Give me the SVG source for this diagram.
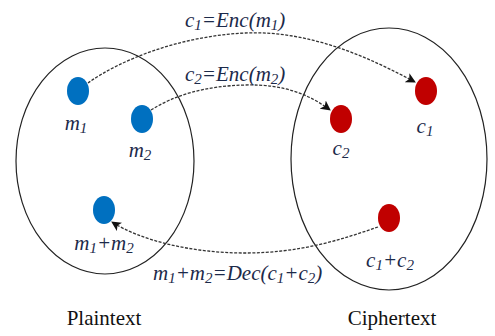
<svg xmlns="http://www.w3.org/2000/svg" width="495" height="336" viewBox="0 0 495 336">
<style>
.set{fill:none;stroke:#222;stroke-width:1.2}
.pt{fill:#0070C0}
.ct{fill:#C00000}
text{font-family:'Liberation Serif','Times New Roman',serif}
.lbl{font-style:italic;font-size:21px;fill:#1c2a4a}
.sub{font-size:15px}
.cap{font-size:21px;fill:#111}
.conn{fill:none;stroke:#333;stroke-width:1.3;stroke-dasharray:3 1.5}
</style>
<defs>
<marker id="ah" viewBox="0 0 10 10" refX="9" refY="5" markerWidth="10" markerHeight="10" markerUnits="userSpaceOnUse" orient="auto">
<path d="M0,0 L10,5 L0,10 L2.5,5 z" fill="#111"/>
</marker>
</defs>
<g id="plaintext">
<ellipse class="set" cx="105" cy="161" rx="89" ry="113"/>
<text class="cap" x="104" y="325" text-anchor="middle">Plaintext</text>
</g>
<g id="ciphertext">
<ellipse class="set" cx="389" cy="159" rx="98" ry="131"/>
<text class="cap" x="392" y="325" text-anchor="middle">Ciphertext</text>
</g>
<g id="m1">
<ellipse class="pt" cx="78" cy="91" rx="11" ry="14"/>
<text class="lbl" x="76" y="130" text-anchor="middle">m<tspan class="sub" dy="3">1</tspan></text>
</g>
<g id="m2">
<ellipse class="pt" cx="142" cy="119" rx="11" ry="14"/>
<text class="lbl" x="140" y="157" text-anchor="middle">m<tspan class="sub" dy="3">2</tspan></text>
</g>
<g id="m1m2">
<ellipse class="pt" cx="104" cy="210" rx="11" ry="14"/>
<text class="lbl" x="104" y="250" text-anchor="middle">m<tspan class="sub" dy="3">1</tspan><tspan dy="-3">+m</tspan><tspan class="sub" dy="3">2</tspan></text>
</g>
<g id="c1">
<ellipse class="ct" cx="426" cy="91" rx="11" ry="14"/>
<text class="lbl" x="425" y="133" text-anchor="middle">c<tspan class="sub" dy="3">1</tspan></text>
</g>
<g id="c2">
<ellipse class="ct" cx="341" cy="119" rx="11" ry="14"/>
<text class="lbl" x="341" y="155" text-anchor="middle">c<tspan class="sub" dy="3">2</tspan></text>
</g>
<g id="c1c2">
<ellipse class="ct" cx="389" cy="218" rx="11" ry="14"/>
<text class="lbl" x="390" y="267" text-anchor="middle">c<tspan class="sub" dy="3">1</tspan><tspan dy="-3">+c</tspan><tspan class="sub" dy="3">2</tspan></text>
</g>
<g id="connectors">
<path class="conn" d="M88,83 C120,60 180,36 245,33 C310,30 370,58 415,82" marker-end="url(#ah)"/>
<path class="conn" d="M151,110 C175,95 205,86 245,85 C285,84 310,95 330,110" marker-end="url(#ah)"/>
<path class="conn" d="M378,227 C340,240 300,253 245,253 C190,253 140,240 112,222" marker-end="url(#ah)"/>
<text class="lbl" x="185" y="27">c<tspan class="sub" dy="3">1</tspan><tspan dy="-3">=Enc(m</tspan><tspan class="sub" dy="3">1</tspan><tspan dy="-3">)</tspan></text>
<text class="lbl" x="185" y="81">c<tspan class="sub" dy="3">2</tspan><tspan dy="-3">=Enc(m</tspan><tspan class="sub" dy="3">2</tspan><tspan dy="-3">)</tspan></text>
<text class="lbl" x="153" y="280">m<tspan class="sub" dy="3">1</tspan><tspan dy="-3">+m</tspan><tspan class="sub" dy="3">2</tspan><tspan dy="-3">=Dec(c</tspan><tspan class="sub" dy="3">1</tspan><tspan dy="-3">+c</tspan><tspan class="sub" dy="3">2</tspan><tspan dy="-3">)</tspan></text>
</g>
</svg>
